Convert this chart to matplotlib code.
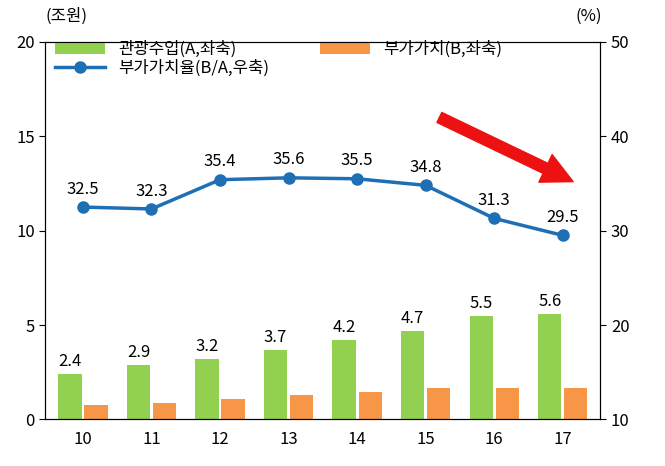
import matplotlib
matplotlib.use("Agg")
import matplotlib.pyplot as plt
from matplotlib import font_manager
import numpy as np

names = sorted({f.name for f in font_manager.fontManager.ttflist})
cjk = [n for n in names if 'CJK' in n]
pref = [n for n in ['Noto Sans CJK KR', 'Noto Sans CJK JP', 'Noto Sans CJK SC', 'Noto Sans CJK TC'] if n in names]
plt.rcParams['font.family'] = (pref or cjk or ['DejaVu Sans'])[:1] + ['DejaVu Sans']

years = ['10', '11', '12', '13', '14', '15', '16', '17']
revenue = [2.4, 2.9, 3.2, 3.7, 4.2, 4.7, 5.5, 5.6]
value_added = [0.75, 0.85, 1.1, 1.3, 1.45, 1.65, 1.65, 1.65]
ratio = [32.5, 32.3, 35.4, 35.6, 35.5, 34.8, 31.3, 29.5]

fig = plt.figure(figsize=(6.65, 4.66), dpi=100)
ax = fig.add_axes([0.068, 0.1, 0.835, 0.81])
x = np.arange(len(years))
w = 0.34
b1 = ax.bar(x - 0.19, revenue, w, color='#92D050', label='관광수입(A,좌축)')
b2 = ax.bar(x + 0.19, value_added, w, color='#F79646', label='부가가치(B,좌축)')
for xi, v in zip(x, revenue):
    ax.text(xi - 0.19, v + 0.2, f'{v}', ha='center', va='bottom', fontsize=12)
ax.set_ylim(0, 20)
ax.set_yticks([0, 5, 10, 15, 20])
ax.set_xlim(-0.55, 7.55)
ax.set_xticks(x)
ax.set_xticklabels(years)
ax.tick_params(labelsize=12, length=4, direction='out')
ax.tick_params(axis='x', length=0, pad=8)

ax2 = ax.twinx()
ln, = ax2.plot(x, ratio, color='#1F6FB4', lw=2.5, marker='o', ms=8, label='부가가치율(B/A,우축)')
for xi, v in zip(x, ratio):
    ax2.text(xi, v + 1.0, f'{v}', ha='center', va='bottom', fontsize=12)
ax2.set_ylim(10, 50)
ax2.set_yticks([10, 20, 30, 40, 50])
ax2.tick_params(labelsize=12, length=4)

ax.legend([b1, ln, b2], ['관광수입(A,좌축)', '부가가치율(B/A,우축)', '부가가치(B,좌축)'],
          loc='upper left', ncol=2, frameon=False,
          fontsize=12, bbox_to_anchor=(0.0, 1.03), columnspacing=3.0,
          handlelength=3.0, borderaxespad=0.2, labelspacing=0.1)

fig.text(0.1, 0.955, '(조원)', fontsize=12, ha='center')
fig.text(0.885, 0.955, '(%)', fontsize=12, ha='center')

ax2.annotate('', xy=(7.15, 35.2), xytext=(5.2, 42.0),
             arrowprops=dict(facecolor='#EE1111', edgecolor='#EE1111',
                             width=8, headwidth=22, headlength=22))
fig.savefig('out.png', dpi=100)
